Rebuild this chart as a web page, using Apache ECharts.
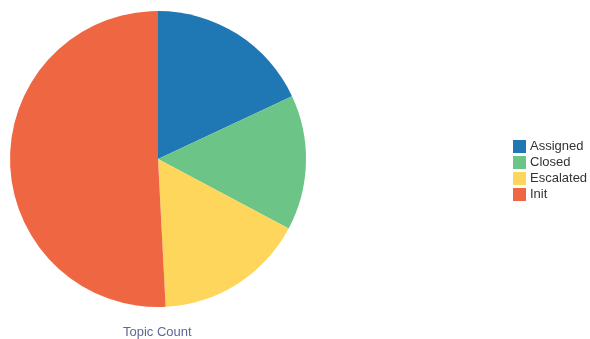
<!DOCTYPE html>
<html><head><meta charset="utf-8">
<script src="https://cdn.jsdelivr.net/npm/echarts@6/dist/echarts.min.js"></script>
<style>html,body{margin:0;padding:0;background:#fff}#c{width:590px;height:339px}</style>
</head><body><div id="c"></div>
<script>
var categories = ['Assigned', 'Closed', 'Escalated', 'Init'];
var values = [11, 9, 10, 31];
var colors = ['#1f78b4', '#6cc486', '#fed65b', '#ef6642'];
var titleText = 'Topic Count';

var chart = echarts.init(document.getElementById('c'), null, {renderer: 'canvas'});
chart.setOption({
  animation: false,
  color: colors,
  title: {
    text: titleText, left: 123, top: 326, padding: 0,
    textStyle: {fontFamily: 'Liberation Sans, Arial', fontSize: 13, fontWeight: 'normal', color: '#5d6894'}
  },
  legend: {
    orient: 'vertical', left: 513, top: 140, padding: 0,
    itemWidth: 13, itemHeight: 13, itemGap: 3, icon: 'rect',
    textStyle: {fontFamily: 'Liberation Sans, Arial', fontSize: 13, lineHeight: 13, color: '#333', padding: [0, 0, 0, -1]},
    data: categories
  },
  series: [{
    type: 'pie',
    center: [158, 159],
    radius: [0, 148],
    startAngle: 90,
    clockwise: true,
    label: {show: false},
    labelLine: {show: false},
    itemStyle: {borderWidth: 0},
    emphasis: {disabled: true},
    data: categories.map(function (c, i) { return {name: c, value: values[i]}; })
  }]
});
</script></body></html>
